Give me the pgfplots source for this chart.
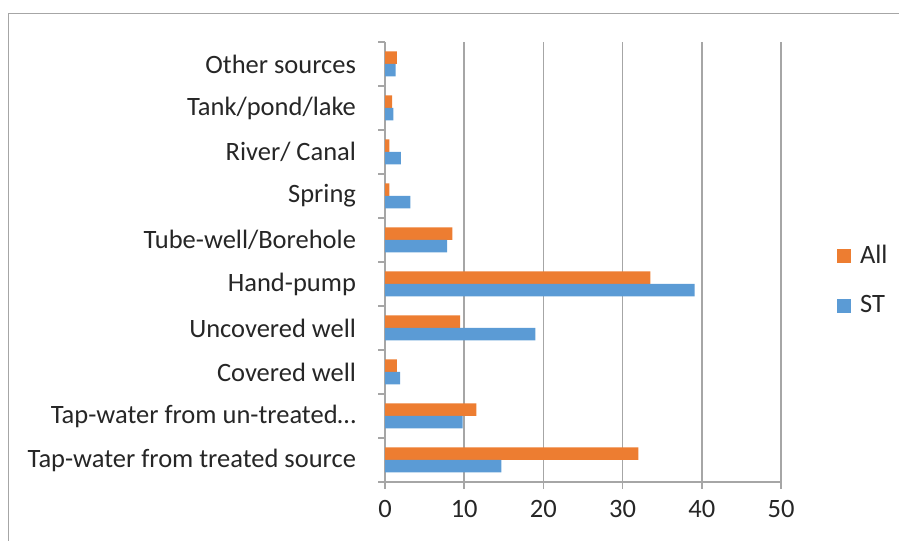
\documentclass[border=0pt]{standalone}
\usepackage{fontspec}
\setmainfont{Carlito}
\usepackage{pgfplots}
\pgfplotsset{compat=1.18}
\definecolor{cAll}{HTML}{ED7D31}
\definecolor{cST}{HTML}{5B9BD5}
\definecolor{gridc}{HTML}{A6A6A6}
\definecolor{txt}{HTML}{262626}
\begin{document}
\fontsize{26.5bp}{32bp}\selectfont
\begin{tikzpicture}[x=1bp,y=1bp]
\path[use as bounding box] (0,0) rectangle (899,541);
\draw[gridc, line width=1.5bp] (8.5,0) -- (8.5,527.5) -- (899,527.5);
\begin{axis}[
  at={(385bp,59bp)}, anchor=south west,
  scale only axis, width=396bp, height=440bp,
  xbar, bar width=12.5bp,
  xmin=0, xmax=50, ymin=-0.5, ymax=9.5,
  xtick={0,10,...,50},
  ytick={0,...,9},
  yticklabels={Tap-water from treated source, Tap-water from un-treated…, Covered well, Uncovered well, Hand-pump, Tube-well/Borehole, Spring, River/ Canal, Tank/pond/lake, Other sources},
  minor ytick={-0.5,0.5,...,9.5},
  major y tick style={draw=none},
  minor y tick style={gridc, line width=1.5bp},
  major x tick style={gridc, line width=1.5bp},
  tick align=outside,
  major tick length=7bp, minor tick length=7bp,
  xmajorgrids, major x grid style={gridc, line width=1.5bp},
  axis x line*=bottom, axis y line*=left,
  axis line style={gridc, line width=1.5bp, -},
  tick label style={font=\fontsize{26.5bp}{32bp}\selectfont, text=txt},
  /pgf/number format/assume math mode=true,
  xticklabel style={yshift=-2bp},
  yticklabel style={xshift=-13bp},
  legend style={at={(1.141,0.458)}, anchor=west, draw=none, fill=none,
     font=\fontsize{26.5bp}{32bp}\selectfont, text=txt, row sep=24bp, inner sep=0pt},
  legend cell align=left,
  legend image code/.code={\fill[#1] (0bp,-7bp) rectangle (14bp,7bp); \path (21bp,0bp);},
]
\addplot[fill=cAll, draw=none, bar shift=6.25bp] coordinates {
 (32.0,0) (11.55,1) (1.5,2) (9.5,3) (33.5,4) (8.5,5) (0.55,6) (0.55,7) (0.9,8) (1.5,9)};
\addplot[fill=cST, draw=none, bar shift=-6.25bp] coordinates {
 (14.7,0) (9.8,1) (1.9,2) (19.0,3) (39.1,4) (7.85,5) (3.2,6) (2.0,7) (1.06,8) (1.35,9)};
\legend{All, ST}
\end{axis}
\end{tikzpicture}
\end{document}
